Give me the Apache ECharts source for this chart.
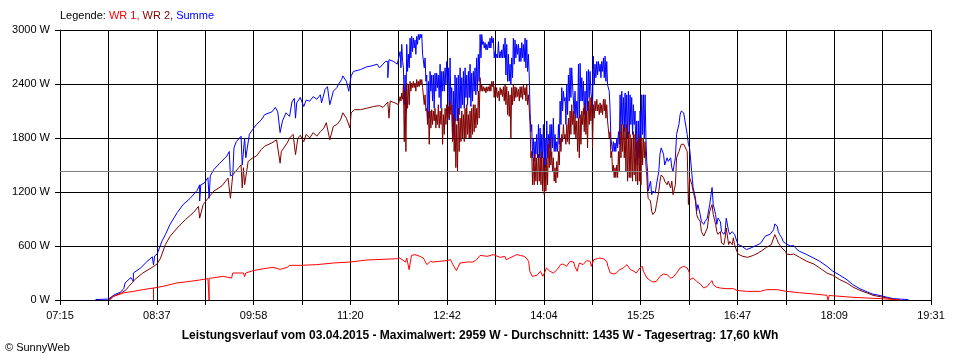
<!DOCTYPE html>
<html><head><meta charset="utf-8">
<script src="https://cdn.jsdelivr.net/npm/echarts/dist/echarts.min.js"></script>
<style>html,body{margin:0;padding:0;background:#fff}#c{width:960px;height:360px}</style>
</head><body><div id="c"></div>
<script>
// x values: minutes after 07:15 (axis runs 07:15 .. 19:31 = 736 min)
const tickLabels = ['07:15','08:37','09:58','11:20','12:42','14:04','15:25','16:47','18:09','19:31'];
const axisSpan = 736;
const yMax = 3000, yStep = 600;
const averageW = 1435;
const maxW = 2959;
const dayYield = '17,60';
const dateText = '03.04.2015';

const summe = [[30,5],[41,10],[42,30],[46,60],[51,85],[54,130],[55,190],[56,210],[60,250],[62,205],[62,300],[68,355],[73,420],[78,480],[79,390],[80,490],[82,510],[83,540],[86,650],[89,725],[93,840],[99,970],[104,1060],[110,1130],[116,1220],[118,1280],[118,1100],[119,1280],[122,1300],[125,1360],[126,1130],[127,1380],[130,1450],[135,1520],[141,1600],[143,1650],[144,1380],[146,1390],[147,1690],[149,1760],[153,1820],[154,1500],[156,1800],[157,1580],[160,1840],[162,1880],[166,1950],[170,2000],[173,2060],[179,2090],[182,2140],[184,2090],[186,1860],[188,1990],[191,2080],[194,2040],[196,2200],[198,2240],[199,2020],[200,2190],[203,2250],[206,2150],[208,2220],[211,2210],[214,2260],[217,2230],[220,2280],[221,2190],[224,2340],[226,2370],[228,2170],[231,2320],[234,2360],[235,2390],[238,2450],[239,2490],[242,2430],[244,2320],[246,2490],[248,2540],[254,2560],[259,2590],[263,2600],[268,2620],[270,2580],[275,2650],[277,2650],[277,2470],[278,2670],[282,2650],[285,2620],
[287.4,2760],[288.1,2580],[288.8,2840],[289.5,2650],[290.2,2580],[290.9,2170],[291.6,2500],[292.3,2080],[293.0,2840],[293.7,2540],[294.4,2730],[295.1,2580],[295.8,2910],[296.5,2690],[297.2,2930],[297.9,2760],[298.6,2910],[299.3,2800],[300.0,2890],[300.7,2730],[301.4,2930],[302.1,2840],[302.8,2950],[303.5,2890],[304.3,2955],[305.0,2910],[305.7,2950],[306.4,2730],[307.1,2730],[307.8,2580],[308.5,2690],[309.2,2430],[309.9,2500],[310.6,1990],[311.3,2430],[312.0,2020],[312.7,2540],[313.4,2320],[314.1,2500],[314.8,2210],[315.5,2500],[316.2,2130],[316.9,2520],[317.6,2320],[318.3,2520],[319.0,2360],[319.7,2500],[320.4,2250],[321.2,2620],[321.9,2130],[322.6,2540],[323.3,2320],[324.0,2540],[324.7,2320],[325.4,2580],[326.1,2390],[326.8,2650],[327.5,2450],[328.2,2580],[328.9,2000],[329.6,2690],[330.3,2170],[331.0,2360],[331.7,1840],[332.4,2320],[333.1,1780],[333.8,2500],[334.5,1990],[335.2,2470],[335.9,1990],[336.6,2500],[337.3,2060],[338.1,2580],[338.8,2130],[339.5,2470],[340.2,2170],[340.9,2540],[341.6,2130],[342.3,2580],[343.0,2250],[343.7,2500],[344.4,2170],[345.1,2540],[345.8,2250],[346.5,2620],[347.2,2150],[347.9,2520],[348.6,2210],[349.3,2540],[350.0,2320],[350.7,2580],[351.4,2280],[352.1,2690],[352.8,2320],[353.5,2730],[354.2,2430],[355.0,2950],[355.7,2690],[356.4,2950],[357.1,2840],[357.8,2870],[358.5,2800],[359.2,2860],[359.9,2780],[360.6,2840],[361.3,2780],[362.0,2870],[362.7,2800],[363.4,2910],[364.1,2800],[364.8,2930],[365.5,2860],[366.2,2910],[366.9,2690],[367.6,2760],[368.3,2690],[369.0,2730],[369.7,2690],[370.5,2870],[371.2,2690],[371.9,2760],[372.6,2690],[373.3,2780],[374.0,2690],[374.7,2840],[375.4,2690],[376.1,2910],[376.8,2500],[377.5,2840],[378.2,2430],[378.9,2730],[379.6,2430],[380.3,2620],[381.0,2390],[381.7,2690],[382.4,2470],[383.1,2910],[383.8,2620],[384.5,2890],[385.2,2690],[385.9,2840],[386.6,2730],[387.4,2840],[388.1,2650],[388.8,2800],[389.5,2650],[390.2,2860],[390.9,2690],[391.6,2840],[392.3,2650],[393.0,2910],[393.7,2580],[394.4,2890],[395.1,2540],[395.8,2730],[396.5,2500],[397.2,2100],[397.9,1870],[398.6,1950],[399.3,1580],[400.0,1800],[400.7,1540],[401.4,1760],[402.1,1620],[402.8,1840],[403.5,1580],[404.3,1950],[405.0,1580],[405.7,1910],[406.4,1540],[407.1,1840],[407.8,1580],[408.5,1950],[409.2,1500],[409.9,1800],[410.6,1470],[411.3,1990],[412.0,1580],[412.7,1840],[413.4,1690],[414.1,1950],[414.8,1650],[415.5,1950],[416.2,1690],[416.9,2020],[417.6,1650],[418.3,1840],[419.0,1650],[419.8,1760],[420.5,1650],[421.2,1950],[421.9,1730],[422.6,2210],[423.3,1950],[424.0,2360],[424.7,2100],[425.4,2320],[426.1,2210],[426.8,2250],[427.5,1950],[428.2,2390],[428.9,2060],[429.6,2500],[430.3,2210],[431.0,2580],[431.7,2250],[432.4,2580],[433.1,2390],[433.8,2390],[434.5,2060],[435.2,2320],[435.9,2020],[436.7,2210],[437.4,2020],[438.1,2620],[438.8,2020],[439.5,2630],[440.2,2210],[440.9,2470],[441.6,2210],[442.3,2430],[443.0,2060],[443.7,2320],[444.4,2020],[445.1,2540],[445.8,2100],[446.5,2560],[447.2,2250],[447.9,2540],[448.6,2320],[449.3,2320],[450.0,2130],[450.7,2710],[451.4,2390],[452.1,2620],[452.8,2470],[453.6,2650],[454.3,2500],[455.0,2650],[455.7,2540],[456.4,2620],[457.1,2470],[457.8,2650],[458.5,2540],[459.2,2690],[459.9,2470],[460.6,2710],[461.3,2430],[462.0,2650],[462.7,2390],[463.4,2390],[464.1,2320],[464.8,2130],[465.5,1800],[466.2,1800],[466.9,1650],[467.6,1760],[468.3,1650],[469.0,1745],[469.7,1650],[470.5,1800],[471.2,1690],[471.9,1870],[472.6,1730],[473.3,2280],[474.0,1840],[474.7,2320],[475.4,1950],[476.1,2250],[476.8,1870],[477.5,2300],[478.2,1910],[478.9,2280],[479.6,1800],[480.3,2320],[481.0,1840],[481.7,2280],[482.4,1950],[483.1,2250],[483.8,1840],[484.5,2170],[485.2,1950],[485.9,2100],[486.6,1650],[487.4,1990],[488.1,1500],[488.8,1990],[489.5,1580],[490.2,2100],[490.9,1800],[491.6,2280],[492.3,1840],[493.0,2280],[493.7,1800],[494.4,2280],[495.1,1800],[495.8,1540],[496.5,1430],
[497,1210],[499,1320],[500,1170],[501,1210],[503,1190],[504,1280],[506,1430],[507,1620],[508,1690],[510,1620],[511,1500],[513,1580],[514,1540],[516,1580],[517,1470],[518,1430],[520,1580],[521,1840],[523,1950],[524,2060],[525,2100],[527,2080],[528,2060],[530,1840],[531,1730],[532,1690],[534,1390],[535,1250],[537,1130],[538,990],[539,1060],[541,950],[542,870],[544,840],[545,870],[547,910],[548,990],[549,1060],[551,1250],[552,1060],[554,950],[555,840],[556,910],[558,870],[559,760],[561,730],[562,760],[563,910],[565,760],[566,730],[568,760],[569,780],[570,730],[572,650],[573,615],[576,600],[580,560],[584,580],[589,610],[592,630],[596,710],[600,730],[603,780],[604,845],[606,820],[607,760],[608,730],[610,690],[611,650],[613,630],[614,615],[617,600],[620,605],[622,570],[625,540],[631,505],[637,465],[642,430],[648,375],[653,320],[659,275],[665,225],[670,170],[676,125],[682,90],[687,65],[693,50],[699,30],[704,15],[710,10],[717,4]];

const wr2 = [[41,0],[45,40],[52,80],[56,115],[58,150],[61,190],[63,225],[70,300],[77,355],[82,400],[85,467],[89,615],[93,707],[99,800],[106,893],[113,975],[117,1040],[118,910],[121,1060],[125,1130],[130,1210],[137,1270],[142,1355],[144,1130],[146,1390],[151,1470],[153,1500],[154,1245],[155,1470],[156,1280],[159,1540],[163,1580],[166,1600],[170,1670],[173,1710],[179,1745],[183,1780],[186,1520],[187,1650],[192,1745],[194,1800],[197,1840],[199,1615],[201,1800],[203,1830],[206,1760],[208,1840],[211,1800],[214,1860],[217,1820],[220,1870],[223,1910],[225,1970],[228,1780],[231,1930],[234,1950],[237,2000],[239,2080],[242,2020],[245,1910],[246,2080],[249,2115],[254,2115],[259,2130],[265,2150],[270,2160],[273,2140],[277,2200],[278,2020],[279,2210],[283,2190],[286,2170],
[287.4,2260],[288.1,2210],[288.8,2300],[289.5,2230],[290.2,2390],[290.9,1760],[291.6,2320],[292.3,1650],[293.0,2410],[293.7,2130],[294.4,2390],[295.1,2170],[295.8,2430],[296.5,2320],[297.2,2410],[297.9,2360],[298.6,2430],[299.3,2360],[300.0,2410],[300.7,2320],[301.4,2450],[302.1,2370],[302.8,2430],[303.5,2370],[304.3,2450],[305.0,2390],[305.7,2450],[306.4,2360],[307.1,2370],[307.8,2170],[308.5,2280],[309.2,2100],[309.9,2130],[310.6,1950],[311.3,2100],[312.0,1730],[312.7,2100],[313.4,1910],[314.1,2115],[314.8,1950],[315.5,2100],[316.2,1990],[316.9,2130],[317.6,1910],[318.3,2060],[319.0,1950],[319.7,2170],[320.4,1910],[321.2,2100],[321.9,1950],[322.6,2130],[323.3,1730],[324.0,2060],[324.7,1840],[325.4,2130],[326.1,1950],[326.8,2170],[327.5,1990],[328.2,2150],[328.9,2020],[329.6,2210],[330.3,2060],[331.0,2170],[331.7,1760],[332.4,2060],[333.1,1650],[333.8,2020],[334.5,1470],[335.2,1950],[335.9,1430],[336.6,2130],[337.3,1650],[338.1,2020],[338.8,1760],[339.5,2100],[340.2,1800],[340.9,2060],[341.6,1760],[342.3,2130],[343.0,1800],[343.7,2170],[344.4,1840],[345.1,2060],[345.8,1800],[346.5,2100],[347.2,1800],[347.9,2130],[348.6,1840],[349.3,2170],[350.0,1870],[350.7,2170],[351.4,1910],[352.1,2130],[352.8,1950],[353.5,2320],[354.2,2020],[355.0,2470],[355.7,2320],[356.4,2390],[357.1,2320],[357.8,2370],[358.5,2320],[359.2,2360],[359.9,2300],[360.6,2370],[361.3,2320],[362.0,2370],[362.7,2320],[363.4,2390],[364.1,2320],[364.8,2430],[365.5,2370],[366.2,2430],[366.9,2250],[367.6,2370],[368.3,2260],[369.0,2360],[369.7,2250],[370.5,2320],[371.2,2210],[371.9,2360],[372.6,2280],[373.3,2340],[374.0,2260],[374.7,2370],[375.4,2210],[376.1,2390],[376.8,2170],[377.5,2370],[378.2,2060],[378.9,2320],[379.6,2040],[380.3,2280],[381.0,1800],[381.7,2360],[382.4,2170],[383.1,2390],[383.8,2210],[384.5,2370],[385.2,2250],[385.9,2360],[386.6,2260],[387.4,2340],[388.1,2210],[388.8,2370],[389.5,2250],[390.2,2370],[390.9,2230],[391.6,2390],[392.3,2280],[393.0,2360],[393.7,2210],[394.4,2390],[395.1,2170],[395.8,2280],[396.5,2130],[397.2,1950],[397.9,1580],[398.6,1650],[399.3,1280],[400.0,1580],[400.7,1280],[401.4,1620],[402.1,1320],[402.8,1580],[403.5,1280],[404.3,1620],[405.0,1320],[405.7,1580],[406.4,1280],[407.1,1650],[407.8,1210],[408.5,1580],[409.2,1170],[409.9,1500],[410.6,1210],[411.3,1580],[412.0,1280],[412.7,1730],[413.4,1470],[414.1,1800],[414.8,1500],[415.5,1650],[416.2,1430],[416.9,1580],[417.6,1320],[418.3,1470],[419.0,1300],[419.8,1540],[420.5,1360],[421.2,1650],[421.9,1500],[422.6,1800],[423.3,1650],[424.0,1840],[424.7,1760],[425.4,1950],[426.1,1800],[426.8,1840],[427.5,1730],[428.2,1950],[428.9,1760],[429.6,2020],[430.3,1730],[431.0,2100],[431.7,1840],[432.4,2170],[433.1,1950],[433.8,2100],[434.5,1840],[435.2,2060],[435.9,1800],[436.7,1990],[437.4,1650],[438.1,2020],[438.8,1580],[439.5,2060],[440.2,1730],[440.9,2100],[441.6,1950],[442.3,2130],[443.0,1870],[443.7,2170],[444.4,1840],[445.1,2100],[445.8,1690],[446.5,2210],[447.2,1950],[447.9,2250],[448.6,1990],[449.3,2250],[450.0,1690],[450.7,2170],[451.4,2020],[452.1,2210],[452.8,2100],[453.6,2230],[454.3,2100],[455.0,2170],[455.7,2060],[456.4,2190],[457.1,2080],[457.8,2170],[458.5,2060],[459.2,2230],[459.9,2100],[460.6,2230],[461.3,2020],[462.0,2170],[462.7,1990],[463.4,1990],[464.1,1800],[464.8,1870],[465.5,1580],[466.2,1650],[466.9,1430],[467.6,1500],[468.3,1360],[469.0,1470],[469.7,1360],[470.5,1500],[471.2,1360],[471.9,1650],[472.6,1430],[473.3,1870],[474.0,1580],[474.7,1950],[475.4,1650],[476.1,1950],[476.8,1580],[477.5,1910],[478.2,1430],[478.9,1950],[479.6,1320],[480.3,1870],[481.0,1360],[481.7,1840],[482.4,1360],[483.1,1800],[483.8,1320],[484.5,1870],[485.2,1390],[485.9,1840],[486.6,1320],[487.4,1760],[488.1,1280],[488.8,1840],[489.5,1320],[490.2,1800],[490.9,1280],[491.6,1800],[492.3,1500],[493.0,1800],[493.7,1580],[494.4,1760],[495.1,1500],[495.8,1390],[496.5,1210],
[497,1130],[499,1100],[500,985],[501,950],[503,985],[504,1060],[506,1210],[507,1320],[508,1390],[510,1360],[511,1320],[513,1280],[514,1320],[516,1245],[517,1320],[518,1170],[520,1280],[521,1580],[523,1650],[524,1690],[525,1730],[527,1730],[528,1710],[530,1650],[531,1060],[532,1360],[534,1280],[535,1210],[537,1100],[538,950],[539,910],[541,870],[542,760],[544,710],[545,730],[547,800],[548,910],[549,985],[551,1060],[552,950],[554,840],[555,760],[556,730],[558,760],[559,633],[561,615],[562,690],[563,800],[565,615],[566,650],[568,615],[569,690],[570,615],[572,540],[573,510],[577,485],[581,474],[586,496],[590,522],[593,548],[597,585],[601,615],[604,726],[606,670],[607,633],[610,578],[613,541],[614,511],[617,504],[620,511],[625,474],[631,430],[637,400],[642,356],[648,300],[653,274],[659,226],[665,189],[670,144],[676,107],[682,78],[687,52],[693,37],[699,22],[704,7],[710,0]];

const wr1 = [[42,0],[45,40],[54,80],[62,96],[70,115],[79,133],[79,0],[79,133],[87,152],[99,190],[110,207],[118,222],[125,237],[126,0],[126,240],[138,263],[145,244],[146,300],[155,300],[156,260],[157,300],[163,326],[172,348],[180,363],[186,340],[192,363],[194,385],[203,385],[217,393],[231,411],[245,422],[259,444],[273,452],[285,459],[287,467],[292,422],[293,467],[295,337],[297,496],[300,504],[304,485],[307,467],[310,393],[313,430],[315,422],[321,430],[327,437],[330,448],[332,393],[335,326],[338,411],[344,422],[349,422],[352,448],[355,496],[361,485],[366,504],[372,474],[376,485],[377,448],[380,467],[383,485],[386,504],[389,496],[392,485],[394,467],[396,430],[397,319],[399,263],[400,281],[403,274],[406,319],[407,300],[408,263],[410,319],[411,356],[414,319],[417,300],[420,337],[423,393],[425,400],[428,374],[431,430],[434,422],[435,374],[437,319],[438,374],[439,411],[442,393],[445,437],[448,430],[449,374],[451,448],[454,459],[456,467],[459,459],[462,430],[463,374],[465,300],[468,289],[470,300],[473,337],[476,356],[479,393],[482,337],[485,319],[487,300],[490,356],[492,374],[493,319],[496,244],[499,215],[501,200],[504,207],[507,263],[510,289],[513,281],[516,244],[518,252],[521,300],[524,356],[527,374],[530,356],[532,300],[532,226],[535,244],[538,207],[541,178],[544,133],[547,152],[549,189],[551,215],[552,170],[555,141],[558,133],[563,126],[569,126],[572,107],[580,96],[592,96],[597,115],[606,115],[614,96],[625,81],[637,67],[648,52],[649,0],[650,50],[659,41],[670,30],[682,22],[693,15],[704,7],[710,0]];

const FONT = '"Liberation Sans", Arial, sans-serif';
const xStep = axisSpan / 18;
const chart = echarts.init(document.getElementById('c'), null, {renderer: 'canvas'});
const lineSeries = (name, data, color, z) => ({
  name, type: 'line', data, z, showSymbol: false, symbol: 'none', sampling: null,
  lineStyle: {color, width: 1}, itemStyle: {color}, emphasis: {disabled: true}, animation: false, silent: true
});
const s0 = lineSeries('Summe', summe, '#0000ff', 3);
s0.markLine = {silent: true, symbol: 'none', label: {show: false}, animation: false,
  lineStyle: {color: '#808080', type: 'solid', width: 1}, emphasis: {disabled: true},
  data: [{yAxis: averageW}]};
chart.setOption({
  animation: false,
  backgroundColor: '#fff',
  title: [
    {text: 'Leistungsverlauf vom ' + dateText + ' - Maximalwert: ' + maxW + ' W - Durchschnitt: ' + averageW + ' W - Tagesertrag: ' + dayYield + ' kWh',
     left: 'center', top: 330, padding: 0,
     textStyle: {fontFamily: FONT, fontSize: 12, fontWeight: 'bold', color: '#000'}},
    {text: '{k|Legende: }{a|WR 1, }{b|WR 2, }{c|Summe}', left: 60, top: 10, padding: 0,
     textStyle: {fontFamily: FONT, fontSize: 11, fontWeight: 'normal', color: '#000',
       rich: {k: {color: '#000', fontFamily: FONT, fontSize: 11}, a: {color: '#ff0000', fontFamily: FONT, fontSize: 11},
              b: {color: '#800000', fontFamily: FONT, fontSize: 11}, c: {color: '#0000ff', fontFamily: FONT, fontSize: 11}}}},
    {text: '\u00a9 SunnyWeb', left: 5, top: 342, padding: 0,
     textStyle: {fontFamily: FONT, fontSize: 11, fontWeight: 'normal', color: '#000'}}
  ],
  grid: {left: 60, right: 29, top: 30, bottom: 60, containLabel: false, show: false},
  xAxis: {
    type: 'value', min: 0, max: axisSpan, interval: xStep,
    axisLine: {show: true, lineStyle: {color: '#000', width: 1}},
    axisTick: {show: true, length: 5, inside: false, lineStyle: {color: '#000', width: 1}},
    splitLine: {show: true, lineStyle: {color: '#000', width: 1, type: 'solid'}},
    axisLabel: {show: true, margin: 10, color: '#000', fontFamily: FONT, fontSize: 11,
      showMinLabel: true, showMaxLabel: true, hideOverlap: false,
      formatter: v => { const i = Math.round(v / xStep); return i % 2 === 0 ? (tickLabels[i / 2] || '') : ''; }}
  },
  yAxis: {
    type: 'value', min: 0, max: yMax, interval: yStep,
    axisLine: {show: true, lineStyle: {color: '#000', width: 1}},
    axisTick: {show: true, length: 5, inside: false, lineStyle: {color: '#000', width: 1}},
    splitLine: {show: true, lineStyle: {color: '#000', width: 1, type: 'solid'}},
    axisLabel: {show: true, margin: 10, color: '#000', fontFamily: FONT, fontSize: 11,
      showMinLabel: true, showMaxLabel: true, formatter: v => v + ' W'}
  },
  series: [s0, lineSeries('WR 2', wr2, '#800000', 4), lineSeries('WR 1', wr1, '#ff0000', 5)]
});
</script></body></html>
